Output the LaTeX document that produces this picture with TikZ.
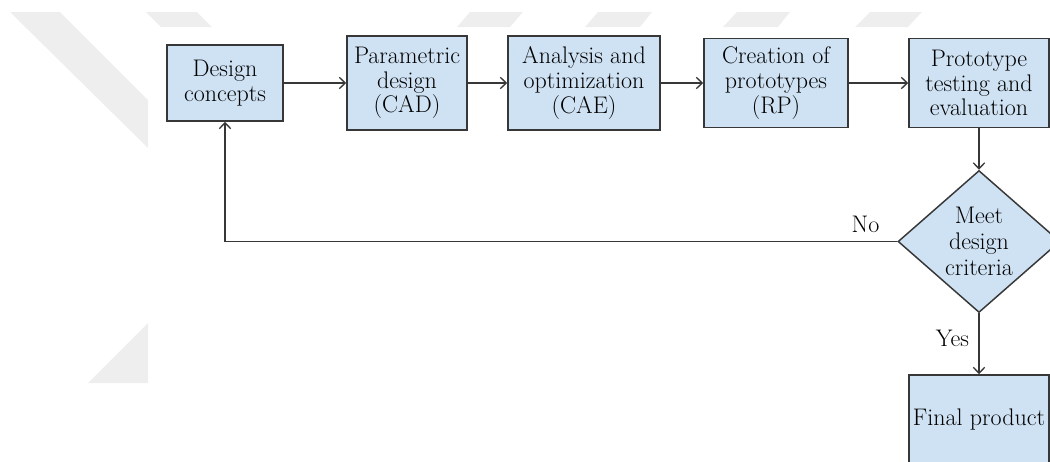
\documentclass[tikz,border=0pt]{standalone}
\usepackage{tikz}
\usetikzlibrary{positioning}
\usetikzlibrary{arrows.meta}
\usetikzlibrary{shapes.geometric}
\definecolor{boxblue}{RGB}{207,226,243}
\definecolor{boxline}{RGB}{55,55,55}
\definecolor{wmark}{RGB}{238,238,238}

\begin{document}
\begin{tikzpicture}[x=0.75pt, y=-0.75pt, >={Straight Barb[length=4.5pt,width=8.5pt]},
blk/.style={rectangle, draw=boxline, line width=1.1pt, fill=boxblue, align=center, inner sep=0pt, text=black, font=\fontsize{18}{18.5}\selectfont},
dec/.style={diamond, draw=boxline, line width=1.1pt, fill=boxblue, align=center, inner sep=0pt, minimum width=121.5pt, minimum height=106.5pt, text=black, font=\fontsize{18}{19.5}\selectfont},
lbl/.style={inner sep=0pt, text=black, font=\fontsize{18}{18.5}\selectfont},
flow/.style={->, draw=boxline, line width=1pt}]
\path[use as bounding box] (0,0) rectangle (1050,461);
\clip (0,0) rectangle (1050,461);

% watermark
\fill[wmark] (10,12) -- (60,12) -- (148,100) -- (148,148) -- cycle;
\fill[wmark] (88,383) -- (148,323) -- (148,383) -- cycle;
\fill[wmark] (146,12) -- (197,12) -- (212,27) -- (161,27) -- cycle;
\fill[wmark] (470,12) -- (523,12) -- (510,27) -- (457,27) -- cycle;
\fill[wmark] (598,12) -- (652,12) -- (640,27) -- (585,27) -- cycle;
\fill[wmark] (737,12) -- (790,12) -- (778,27) -- (723,27) -- cycle;
\fill[wmark] (870,12) -- (922,12) -- (908,27) -- (855,27) -- cycle;

% steps
\node[blk, minimum width=87pt, minimum height=57pt] (design) at (225,83) {Design\\concepts};
\node[blk, minimum width=90pt, minimum height=70.5pt] (cad) at (407,83) {Parametric\\design\\(CAD)};
\node[blk, minimum width=114pt, minimum height=70.5pt] (cae) at (584,83) {Analysis and\\optimization\\(CAE)};
\node[blk, minimum width=108pt, minimum height=66.75pt] (rp) at (776,83) {Creation of\\prototypes\\(RP)};
\node[blk, minimum width=105pt, minimum height=66.75pt] (test) at (979,83) {Prototype\\testing and\\evaluation};
\node[dec] (crit) at (979,241.5) {Meet\\design\\criteria};
\node[blk, minimum width=105pt, minimum height=67.5pt] (final) at (979,420) {Final product};

% arrows
\draw[flow] (design) -- (cad);
\draw[flow] (cad) -- (cae);
\draw[flow] (cae) -- (rp);
\draw[flow] (rp) -- (test);
\draw[flow] (test) -- (crit);
\draw[flow] (crit) -- node[lbl, left=7pt, pos=0.41] {Yes} (final);

% back to the start
\draw[flow] (crit.west) -- node[lbl, pos=0, above left=6pt and 13pt] {No} (design.south |- crit.west) -- (design.south);
\end{tikzpicture}
\end{document}
